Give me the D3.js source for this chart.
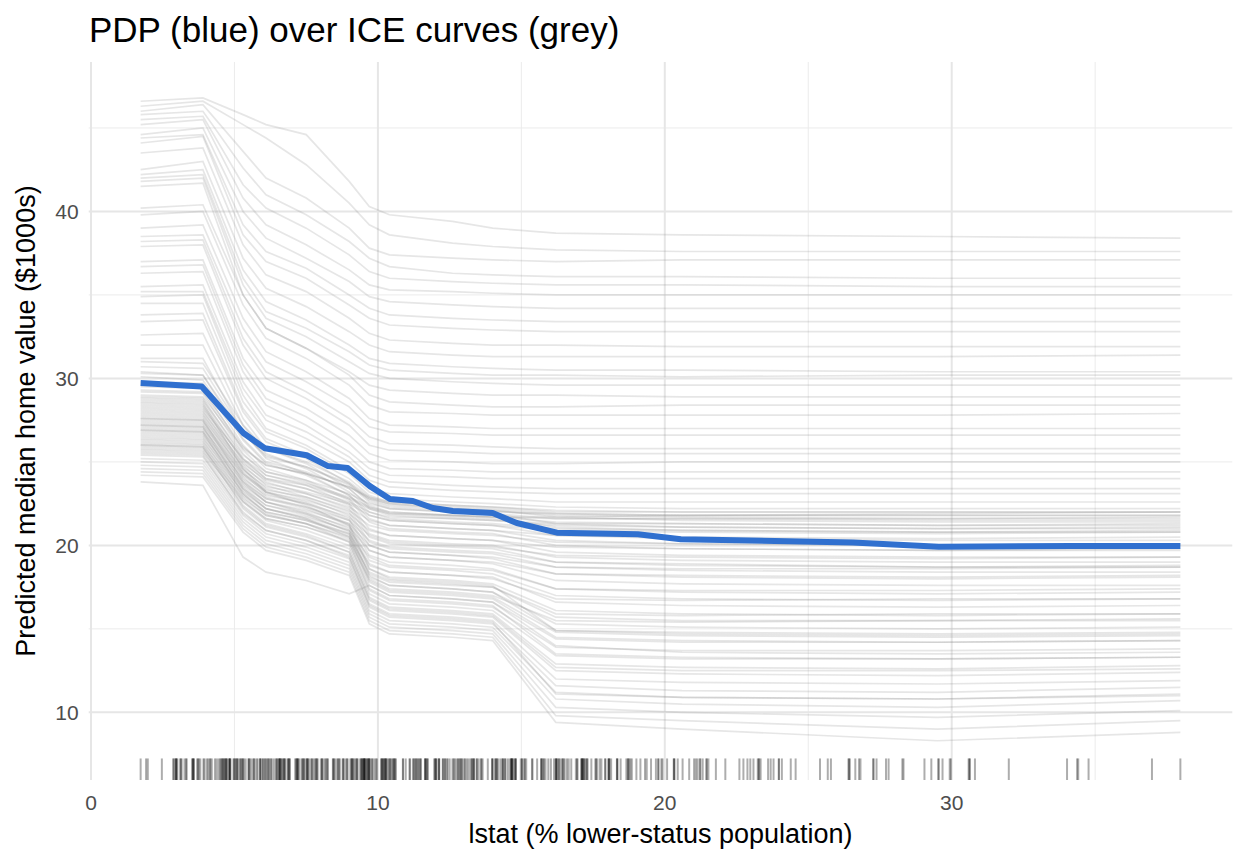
<!DOCTYPE html>
<html>
<head>
<meta charset="utf-8">
<script src="https://cdn.jsdelivr.net/npm/d3@7"></script>
<style>
  body { margin: 0; background: #ffffff; }
  text { font-family: "Liberation Sans", Arial, Helvetica, sans-serif; }
</style>
</head>
<body>
<div class="chart"></div>
<script>
var svgWidth = 1248;
var svgHeight = 864;

var margin = {
  top: 62,
  right: 15.7,
  bottom: 84,
  left: 88.7
};

var width = svgWidth - margin.left - margin.right;
var height = svgHeight - margin.top - margin.bottom;

// grid of lstat values the ICE curves were evaluated on
var iceGrid = [1.73, 3.9, 5.3, 6.1, 7.5, 9.0, 9.7, 10.4, 12.6, 14.0, 16.2, 20.6, 29.5, 37.97];

// top group (high predictions at low lstat)
var iceTop = [
  [46.6, 46.8, 45.8, 45.2, 44.6, 41.8, 40.3, 39.8, 39.4, 39.0, 38.7, 38.6, 38.5, 38.4],
  [46.3, 46.6, 45.2, 44.4, 42.8, 40.5, 39.2, 38.6, 38.1, 37.9, 37.7, 37.6, 37.6, 37.6],
  [46.0, 46.4, 43.6, 42.0, 40.8, 39.0, 37.8, 37.4, 37.2, 37.1, 37.0, 37.1, 37.1, 37.1],
  [45.8, 46.0, 42.6, 41.0, 39.8, 38.2, 37.2, 36.7, 36.3, 36.2, 36.1, 36.1, 36.0, 36.0],
  [45.5, 45.7, 41.6, 40.2, 39.0, 37.4, 36.4, 36.0, 35.8, 35.7, 35.6, 35.6, 35.5, 35.5],
  [45.2, 45.5, 40.8, 39.2, 38.0, 36.5, 35.6, 35.3, 35.2, 35.1, 35.0, 35.0, 35.0, 35.0],
  [44.6, 45.0, 40.0, 38.4, 37.2, 35.8, 34.9, 34.6, 34.4, 34.3, 34.2, 34.2, 34.2, 34.2],
  [44.4, 44.6, 39.2, 37.6, 36.6, 35.0, 34.2, 33.8, 33.6, 33.5, 33.4, 33.4, 33.4, 33.4],
  [44.1, 44.5, 38.6, 37.0, 36.0, 34.4, 33.6, 33.2, 33.0, 32.9, 32.8, 32.8, 32.8, 32.8],
  [43.5, 43.8, 38.0, 36.2, 35.2, 33.6, 32.7, 32.3, 32.1, 32.0, 32.0, 31.9, 31.9, 31.9],
  [42.5, 43.0, 37.2, 35.4, 34.3, 32.8, 32.0, 31.6, 31.4, 31.3, 31.3, 31.3, 31.3, 31.4],
  [42.2, 42.5, 36.5, 34.6, 33.5, 32.0, 31.2, 30.9, 30.7, 30.6, 30.5, 30.5, 30.4, 30.4],
  [42.0, 42.2, 36.0, 34.0, 33.0, 31.6, 30.8, 30.5, 30.3, 30.2, 30.2, 30.1, 30.2, 30.2],
  [41.8, 42.0, 35.6, 33.6, 32.5, 31.0, 30.3, 30.0, 29.8, 29.7, 29.6, 29.6, 29.6, 29.6],
  [41.5, 41.7, 35.0, 33.0, 31.8, 30.4, 29.6, 29.3, 29.1, 29.0, 29.0, 28.9, 28.9, 28.9]
];

// upper-middle group
var iceUpper = [
  [40.2, 40.4, 35.0, 33.0, 31.8, 30.2, 29.0, 28.6, 28.4, 28.3, 28.3, 28.4, 28.4, 28.4],
  [39.8, 40.0, 34.4, 32.4, 31.2, 29.6, 28.4, 28.0, 27.9, 27.8, 27.8, 27.8, 27.8, 27.9],
  [39.0, 39.2, 33.6, 31.6, 30.4, 28.8, 27.6, 27.2, 27.1, 27.0, 27.0, 27.0, 27.0, 27.0],
  [38.5, 38.6, 33.0, 31.0, 29.8, 28.3, 27.1, 26.8, 26.7, 26.6, 26.6, 26.6, 26.6, 26.6],
  [38.2, 38.3, 32.4, 30.4, 29.2, 27.6, 26.5, 26.1, 26.0, 25.9, 25.8, 25.8, 25.8, 25.8],
  [37.9, 38.0, 32.0, 30.0, 28.8, 27.2, 26.0, 25.7, 25.6, 25.5, 25.5, 25.5, 25.5, 25.5],
  [37.0, 37.1, 31.2, 29.3, 28.2, 26.6, 25.5, 25.1, 25.0, 24.9, 24.9, 25.0, 25.0, 25.0],
  [36.7, 36.8, 30.8, 28.8, 27.7, 26.1, 25.0, 24.6, 24.5, 24.4, 24.4, 24.4, 24.4, 24.4],
  [36.3, 36.4, 30.4, 28.4, 27.2, 25.6, 24.6, 24.2, 24.1, 24.0, 24.0, 24.0, 24.0, 24.0],
  [35.5, 35.6, 29.8, 27.8, 26.8, 25.3, 24.2, 23.8, 23.6, 23.5, 23.4, 23.4, 23.4, 23.4],
  [35.2, 35.2, 29.4, 27.5, 26.4, 25.0, 23.9, 23.5, 23.3, 23.2, 23.1, 23.1, 23.1, 23.1],
  [34.9, 35.0, 29.0, 27.0, 26.0, 24.5, 23.4, 23.1, 22.9, 22.8, 22.6, 22.6, 22.6, 22.6],
  [34.5, 34.5, 28.6, 26.8, 25.8, 24.3, 23.2, 22.8, 22.6, 22.5, 22.3, 22.2, 22.2, 22.2],
  [33.8, 33.9, 28.2, 26.4, 25.4, 24.0, 23.0, 22.6, 22.4, 22.3, 22.1, 22.0, 22.0, 22.0],
  [33.4, 33.5, 28.0, 26.2, 25.2, 23.7, 22.7, 22.3, 22.1, 22.0, 21.9, 21.8, 21.8, 21.8],
  [32.6, 32.7, 27.6, 25.8, 24.9, 23.4, 22.4, 22.0, 21.8, 21.7, 21.6, 21.6, 21.5, 21.5],
  [32.0, 32.0, 27.2, 25.5, 24.6, 23.2, 22.2, 21.8, 21.6, 21.5, 21.3, 21.3, 21.2, 21.2],
  [31.2, 31.2, 26.8, 25.2, 24.3, 23.0, 22.0, 21.6, 21.4, 21.3, 21.0, 20.9, 20.8, 20.9]
];

// middle / lower group
var iceLower = [
  [31.0, 30.9, 27.2, 25.8, 25.0, 23.8, 22.9, 22.5, 22.2, 22.1, 21.7, 21.5, 21.4, 21.4],
  [30.7, 30.6, 26.8, 25.3, 24.7, 23.6, 22.6, 22.2, 22.0, 21.9, 21.3, 21.1, 21.0, 21.0],
  [30.4, 30.2, 26.4, 25.0, 24.4, 23.4, 22.3, 21.9, 21.7, 21.6, 21.1, 20.9, 20.8, 20.8],
  [30.1, 29.9, 26.3, 24.9, 24.2, 23.0, 21.8, 21.5, 21.3, 21.2, 20.6, 20.4, 20.3, 20.3],
  [29.8, 29.7, 26.0, 24.6, 23.9, 22.8, 21.6, 21.2, 21.0, 20.9, 20.3, 20.1, 20.0, 20.0],
  [29.5, 29.4, 25.7, 24.4, 23.8, 22.7, 21.4, 21.0, 20.8, 20.7, 20.0, 19.8, 19.7, 19.7],
  [29.2, 29.1, 25.5, 24.2, 23.6, 22.5, 21.0, 20.6, 20.4, 20.3, 19.6, 19.4, 19.3, 19.3],
  [28.9, 28.8, 25.2, 24.0, 23.4, 22.4, 20.7, 20.3, 20.1, 20.0, 19.3, 19.1, 19.0, 19.0],
  [28.7, 28.6, 25.0, 23.8, 23.1, 22.2, 20.5, 20.1, 19.9, 19.8, 19.0, 18.8, 18.7, 18.8],
  [28.4, 28.3, 24.8, 23.6, 22.9, 22.0, 20.2, 19.8, 19.6, 19.5, 18.7, 18.5, 18.4, 18.4],
  [28.2, 28.1, 24.6, 23.4, 22.8, 21.8, 20.0, 19.6, 19.4, 19.2, 18.3, 18.1, 18.0, 18.1],
  [28.0, 27.9, 24.4, 23.2, 22.6, 21.6, 19.7, 19.3, 19.1, 18.9, 17.9, 17.7, 17.6, 17.6],
  [27.8, 27.7, 24.3, 23.1, 22.5, 21.5, 19.4, 19.0, 18.8, 18.6, 17.4, 17.2, 17.1, 17.2],
  [27.6, 27.5, 24.1, 22.9, 22.3, 21.3, 19.1, 18.7, 18.5, 18.3, 17.0, 16.8, 16.7, 16.8],
  [27.4, 27.3, 23.9, 22.8, 22.2, 21.2, 18.8, 18.4, 18.2, 18.1, 16.6, 16.4, 16.3, 16.4],
  [27.2, 27.1, 23.7, 22.6, 22.0, 21.0, 18.6, 18.1, 17.9, 17.7, 16.1, 15.9, 15.8, 15.9],
  [27.0, 26.9, 23.5, 22.4, 21.8, 20.9, 18.3, 17.8, 17.6, 17.5, 15.7, 15.5, 15.5, 15.6],
  [26.8, 26.7, 23.3, 22.2, 21.6, 20.7, 18.1, 17.6, 17.4, 17.2, 15.3, 15.1, 15.0, 15.1],
  [26.6, 26.5, 23.1, 22.0, 21.5, 20.6, 17.9, 17.3, 17.1, 16.9, 14.8, 14.6, 14.5, 14.6],
  [26.4, 26.3, 22.9, 21.8, 21.3, 20.4, 17.6, 17.0, 16.8, 16.6, 14.4, 14.2, 14.2, 14.3],
  [26.2, 26.1, 22.7, 21.6, 21.1, 20.2, 17.3, 16.7, 16.5, 16.3, 13.9, 13.7, 13.7, 13.8],
  [26.0, 25.9, 22.6, 21.5, 20.9, 20.0, 17.1, 16.5, 16.3, 16.1, 13.4, 13.2, 13.2, 13.3],
  [25.8, 25.7, 22.4, 21.3, 20.7, 19.8, 16.9, 16.3, 16.1, 15.9, 12.9, 12.7, 12.6, 12.8],
  [25.6, 25.5, 22.2, 21.1, 20.5, 19.6, 16.7, 16.1, 15.9, 15.7, 12.5, 12.3, 12.2, 12.4],
  [25.4, 25.3, 22.0, 20.9, 20.3, 19.4, 16.5, 15.9, 15.7, 15.5, 12.0, 11.8, 11.7, 11.9],
  [25.2, 25.1, 21.8, 20.7, 20.1, 19.2, 16.3, 15.7, 15.5, 15.3, 11.6, 11.3, 11.2, 11.5],
  [25.0, 24.9, 21.6, 20.5, 19.9, 19.0, 16.1, 15.5, 15.3, 15.1, 11.2, 10.9, 10.8, 11.1],
  [24.8, 24.7, 21.4, 20.3, 19.7, 18.8, 15.9, 15.3, 15.1, 14.9, 10.8, 10.5, 10.3, 10.7],
  [24.6, 24.5, 21.2, 20.1, 19.5, 18.6, 15.7, 15.1, 14.9, 14.7, 10.3, 10.0, 9.7, 10.1],
  [24.4, 24.3, 21.0, 19.9, 19.3, 18.4, 15.5, 14.9, 14.7, 14.5, 9.8, 9.5, 9.0, 9.5],
  [24.2, 24.1, 20.8, 19.7, 19.1, 18.2, 15.3, 14.7, 14.5, 14.3, 9.4, 9.0, 8.3, 8.8],
  [23.8, 23.6, 19.3, 18.4, 17.9, 17.1, 17.6, 17.0, 16.8, 16.6, 14.0, 13.6, 13.5, 13.6]
];

// extra curves where the grey band is densest
var iceDense = [
  [29.3, 29.2, 25.9, 24.8, 24.3, 23.5, 22.8, 22.5, 22.3, 22.2, 21.9, 21.8, 21.8, 21.8],
  [28.8, 28.7, 25.4, 24.4, 23.9, 23.1, 22.5, 22.2, 22.0, 21.9, 21.6, 21.6, 21.6, 21.6],
  [28.5, 28.4, 25.1, 24.0, 23.6, 22.8, 22.2, 21.9, 21.8, 21.7, 21.4, 21.3, 21.2, 21.3],
  [28.1, 28.0, 24.9, 23.9, 23.4, 22.6, 22.0, 21.7, 21.6, 21.5, 21.2, 21.1, 21.0, 21.1],
  [27.9, 27.8, 24.7, 23.7, 23.2, 22.5, 21.8, 21.5, 21.3, 21.2, 20.9, 20.8, 20.7, 20.8],
  [27.7, 27.6, 24.5, 23.5, 23.1, 22.3, 21.5, 21.2, 21.0, 20.9, 20.6, 20.5, 20.4, 20.5],
  [27.5, 27.4, 24.3, 23.3, 22.9, 22.1, 21.2, 20.9, 20.7, 20.6, 20.2, 20.1, 20.0, 20.1],
  [27.3, 27.2, 24.2, 23.2, 22.7, 21.9, 20.9, 20.6, 20.4, 20.3, 19.9, 19.8, 19.7, 19.8],
  [27.1, 27.0, 24.0, 23.0, 22.5, 21.7, 20.6, 20.2, 20.0, 19.9, 19.4, 19.3, 19.2, 19.3],
  [26.9, 26.8, 23.8, 22.8, 22.3, 21.5, 20.3, 19.9, 19.7, 19.6, 19.0, 18.9, 18.7, 18.7],
  [26.7, 26.6, 23.6, 22.6, 22.1, 21.3, 20.0, 19.6, 19.4, 19.3, 18.7, 18.6, 18.6, 18.7],
  [26.5, 26.4, 23.4, 22.4, 21.9, 21.1, 19.7, 19.3, 19.1, 19.0, 18.3, 18.2, 18.1, 18.2],
  [26.3, 26.2, 23.2, 22.2, 21.7, 20.9, 19.3, 18.8, 18.6, 18.5, 17.4, 17.3, 17.3, 17.4],
  [26.1, 26.0, 23.0, 22.0, 21.5, 20.7, 18.9, 18.4, 18.2, 18.0, 16.8, 16.7, 16.8, 16.8],
  [25.9, 25.8, 22.8, 21.8, 21.3, 20.5, 18.4, 17.9, 17.7, 17.5, 15.9, 15.8, 15.9, 15.9],
  [25.7, 25.6, 22.6, 21.6, 21.1, 20.3, 18.0, 17.4, 17.2, 17.0, 15.5, 15.4, 15.5, 15.5],
  [27.6, 27.5, 23.8, 22.6, 21.9, 20.8, 18.2, 17.6, 17.4, 17.2, 14.9, 14.7, 14.6, 14.7],
  [27.2, 27.1, 23.4, 22.2, 21.6, 20.5, 17.8, 17.2, 17.0, 16.8, 14.5, 14.3, 14.2, 14.3],
  [28.6, 28.5, 24.6, 23.2, 22.4, 21.2, 18.6, 18.0, 17.8, 17.6, 14.9, 14.8, 14.7, 14.8],
  [26.9, 26.8, 23.1, 21.9, 21.3, 20.2, 17.4, 16.8, 16.6, 16.4, 13.5, 13.3, 13.2, 13.3],
  [26.0, 25.9, 22.3, 21.2, 20.6, 19.6, 16.8, 16.2, 16.0, 15.8, 12.7, 12.5, 12.5, 12.6],
  [25.5, 25.4, 21.9, 20.9, 20.3, 19.3, 16.4, 15.8, 15.6, 15.4, 11.1, 10.9, 10.8, 11.0],
  [28.3, 28.2, 25.2, 24.2, 23.7, 22.9, 22.3, 22.0, 21.8, 21.7, 21.7, 21.8, 21.9, 22.0],
  [29.0, 28.9, 25.8, 24.8, 24.3, 23.5, 22.9, 22.6, 22.4, 22.3, 22.0, 22.0, 22.0, 22.0],
  [30.3, 30.2, 26.7, 25.4, 24.7, 23.7, 22.8, 22.4, 22.2, 22.1, 21.8, 21.7, 21.6, 21.7]
];

// partial dependence (average of the ICE curves)
var pdpX = [1.73, 3.86, 5.31, 6.06, 7.52, 8.26, 8.95, 9.72, 10.42, 11.22, 11.92, 12.61, 14.0, 14.84,
  16.24, 19.06, 20.56, 26.55, 29.55, 34.18, 37.97];
var pdpY = [29.72, 29.52, 26.73, 25.82, 25.40, 24.75, 24.63, 23.55, 22.78, 22.66, 22.24, 22.06, 21.94, 21.34,
  20.76, 20.67, 20.37, 20.17, 19.92, 19.97, 19.97];

// observed lstat values (rug)
var lstatRug = [4.98, 9.14, 4.03, 2.94, 5.33, 5.21, 12.43, 19.15, 29.93, 17.10, 20.45, 13.27, 15.71, 8.26, 10.26,
  8.47, 6.58, 14.67, 11.69, 11.28, 21.02, 13.83, 18.72, 19.88, 16.30, 16.51, 14.81, 17.28, 12.80, 11.98, 22.60,
  13.04, 27.71, 18.35, 20.34, 9.68, 11.41, 8.77, 10.13, 4.32, 1.98, 4.84, 5.81, 7.44, 9.55, 10.21, 14.15, 18.80,
  30.81, 16.20, 13.45, 9.43, 5.28, 8.43, 14.80, 4.81, 5.77, 3.95, 6.86, 9.22, 13.15, 14.44, 6.73, 9.50, 8.05, 4.67,
  10.24, 8.10, 13.09, 8.79, 6.72, 9.88, 5.52, 7.54, 6.78, 8.94, 11.97, 10.27, 12.34, 9.10, 5.29, 7.22, 7.51, 9.62,
  6.53, 12.86, 8.44, 5.50, 5.70, 8.81, 8.20, 8.16, 6.21, 10.59, 6.65, 11.34, 4.21, 3.57, 6.19, 9.42, 7.67, 10.63,
  13.44, 12.33, 16.47, 18.66, 14.09, 12.27, 15.55, 13.00, 10.16, 16.21, 17.09, 10.45, 15.76, 12.04, 10.30, 15.37,
  13.61, 14.37, 14.27, 17.93, 25.41, 17.58, 27.26, 17.19, 15.39, 18.34, 12.60, 12.26, 11.12, 15.03, 17.31, 16.96,
  16.90, 14.59, 27.80, 16.65, 27.28, 21.45, 30.59, 34.41, 26.82, 26.42, 29.29, 29.53, 28.32, 14.10, 13.28, 12.12,
  15.79, 15.12, 15.02, 16.14, 4.59, 6.43, 7.39, 1.73, 1.92, 3.32, 11.64, 9.81, 3.70, 12.14, 11.10, 11.32, 14.43,
  12.03, 14.69, 9.04, 9.64, 10.11, 6.29, 6.92, 5.04, 7.56, 9.45, 4.82, 5.68, 13.98, 4.45, 6.68, 4.56, 5.39, 5.10,
  4.69, 2.87, 5.03, 4.38, 2.97, 4.08, 8.61, 6.62, 7.43, 3.11, 3.81, 2.88, 10.87, 10.97, 18.06, 14.66, 23.09, 17.27,
  23.98, 16.03, 9.38, 29.55, 9.47, 13.51, 9.69, 17.92, 10.50, 9.71, 21.46, 9.93, 7.60, 4.14, 4.63, 3.13, 6.36,
  3.92, 3.76, 11.65, 5.25, 2.47, 8.05, 10.88, 9.54, 4.73, 7.37, 11.38, 12.40, 11.22, 5.19, 12.50, 18.46, 9.16,
  10.15, 9.52, 6.56, 5.90, 3.59, 3.53, 3.54, 6.57, 9.25, 5.12, 7.79, 6.90, 9.59, 7.26, 5.91, 11.25, 14.79, 3.16,
  13.65, 6.59, 7.73, 2.98, 6.05, 4.16, 7.19, 4.85, 3.01, 7.85, 8.23, 12.93, 7.14, 9.51, 3.33, 3.56, 4.70, 8.58,
  10.40, 6.27, 15.84, 4.97, 4.74, 6.07, 8.67, 4.86, 6.93, 8.93, 6.47, 7.53, 4.54, 9.97, 12.64, 5.98, 11.72, 7.90,
  9.28, 11.50, 18.33, 15.94, 10.36, 12.73, 7.20, 6.87, 7.70, 11.74, 6.12, 5.08, 6.15, 12.79, 7.34, 9.09, 7.83,
  6.75, 8.01, 9.80, 10.56, 8.51, 9.74, 9.29, 5.49, 8.65, 7.18, 4.61, 10.53, 12.67, 5.99, 5.89, 4.50, 5.57, 17.60,
  11.48, 14.19, 10.19, 14.64, 7.12, 14.00, 13.33, 3.26, 3.73, 2.96, 9.53, 8.88, 34.77, 37.97, 23.24, 21.24, 23.69,
  21.78, 17.21, 21.08, 23.60, 24.56, 30.63, 28.28, 31.99, 30.62, 20.85, 17.11, 18.76, 25.68, 15.17, 16.35, 17.12,
  19.37, 19.92, 29.97, 26.77, 20.32, 20.31, 19.77, 27.38, 22.98, 23.34, 12.13, 26.40, 19.78, 21.22, 34.37, 20.08,
  36.98, 29.05, 25.79, 26.64, 20.62, 22.74, 15.70, 23.29, 17.16, 24.39, 15.69, 14.52, 21.52, 24.08, 17.64, 19.69,
  16.22, 23.27, 18.05, 26.45, 34.02, 22.88, 22.11, 19.52, 16.59, 18.85, 23.79, 17.79, 16.44, 18.13, 19.31, 17.44,
  17.73, 16.74, 18.71, 19.01, 16.94, 16.23, 14.70, 16.42, 14.65, 13.99, 10.29, 13.22, 14.13, 17.15, 21.32, 14.76,
  16.29, 12.87, 14.36, 11.66, 18.03, 10.42, 13.34, 10.58, 14.98, 11.45, 23.97, 29.68, 18.07, 13.35, 12.01, 13.59,
  21.14, 12.92, 15.10, 14.33, 9.67, 9.08, 5.64, 6.48, 7.88];

var xTicks = [0, 10, 20, 30];
var xMinor = [5, 15, 25, 35];
var yTicks = [10, 20, 30, 40];
var yMinor = [15, 25, 35, 45];

var svg = d3
  .select(".chart")
  .append("svg")
  .attr("width", svgWidth)
  .attr("height", svgHeight);

var chartGroup = svg.append("g")
  .attr("transform", `translate(${margin.left}, ${margin.top})`);

var xLinearScale = d3.scaleLinear()
  .domain([-0.08, 39.78])
  .range([0, width]);

var yLinearScale = d3.scaleLinear()
  .domain([5.95, 48.95])
  .range([height, 0]);

// grid lines (minor first, then major)
chartGroup.selectAll(".xminor").data(xMinor).enter().append("line")
  .attr("x1", d => xLinearScale(d)).attr("x2", d => xLinearScale(d))
  .attr("y1", 0).attr("y2", height)
  .attr("stroke", "#ebebeb").attr("stroke-width", 1);
chartGroup.selectAll(".yminor").data(yMinor).enter().append("line")
  .attr("y1", d => yLinearScale(d)).attr("y2", d => yLinearScale(d))
  .attr("x1", 0).attr("x2", width)
  .attr("stroke", "#ebebeb").attr("stroke-width", 1);
chartGroup.selectAll(".xmajor").data(xTicks).enter().append("line")
  .attr("x1", d => xLinearScale(d)).attr("x2", d => xLinearScale(d))
  .attr("y1", 0).attr("y2", height)
  .attr("stroke", "#e6e6e6").attr("stroke-width", 2);
chartGroup.selectAll(".ymajor").data(yTicks).enter().append("line")
  .attr("y1", d => yLinearScale(d)).attr("y2", d => yLinearScale(d))
  .attr("x1", 0).attr("x2", width)
  .attr("stroke", "#e6e6e6").attr("stroke-width", 2);

// ICE curves
var iceLine = d3.line()
  .x((d, i) => xLinearScale(iceGrid[i]))
  .y(d => yLinearScale(d));

var allIce = iceTop.concat(iceUpper, iceLower, iceDense);

chartGroup.append("g")
  .selectAll("path")
  .data(allIce)
  .enter()
  .append("path")
  .attr("d", iceLine)
  .attr("fill", "none")
  .attr("stroke", "#808080")
  .attr("stroke-opacity", 0.2)
  .attr("stroke-width", 1.7);

// rug
chartGroup.append("g")
  .selectAll("line")
  .data(lstatRug)
  .enter()
  .append("line")
  .attr("x1", d => xLinearScale(d))
  .attr("x2", d => xLinearScale(d))
  .attr("y1", height)
  .attr("y2", height - height * 0.03)
  .attr("stroke", "#000")
  .attr("stroke-opacity", 0.32)
  .attr("stroke-width", 2);

// PDP line
var pdpLine = d3.line()
  .x((d, i) => xLinearScale(pdpX[i]))
  .y(d => yLinearScale(d));

chartGroup.append("path")
  .datum(pdpY)
  .attr("d", pdpLine)
  .attr("fill", "none")
  .attr("stroke", "#3070cf")
  .attr("stroke-width", 6)
  .attr("stroke-linejoin", "round");

// tick labels
chartGroup.selectAll(".xlab").data(xTicks).enter().append("text")
  .attr("x", d => xLinearScale(d))
  .attr("y", height + 30)
  .attr("text-anchor", "middle")
  .attr("font-size", "21px")
  .attr("fill", "#4d4d4d")
  .text(d => d);

chartGroup.selectAll(".ylab").data(yTicks).enter().append("text")
  .attr("x", -10)
  .attr("y", d => yLinearScale(d))
  .attr("dy", "0.36em")
  .attr("text-anchor", "end")
  .attr("font-size", "21px")
  .attr("fill", "#4d4d4d")
  .text(d => d);

// axis titles
chartGroup.append("text")
  .attr("x", width / 2)
  .attr("y", height + 63)
  .attr("text-anchor", "middle")
  .attr("font-size", "27px")
  .attr("fill", "#000")
  .text("lstat (% lower-status population)");

chartGroup.append("text")
  .attr("transform", "rotate(-90)")
  .attr("x", 0 - (height / 2))
  .attr("y", 0 - margin.left + 35)
  .attr("text-anchor", "middle")
  .attr("font-size", "27px")
  .attr("fill", "#000")
  .text("Predicted median home value ($1000s)");

// title
svg.append("text")
  .attr("x", 89)
  .attr("y", 42)
  .attr("font-size", "35px")
  .attr("fill", "#000")
  .text("PDP (blue) over ICE curves (grey)");
</script>
</body>
</html>
